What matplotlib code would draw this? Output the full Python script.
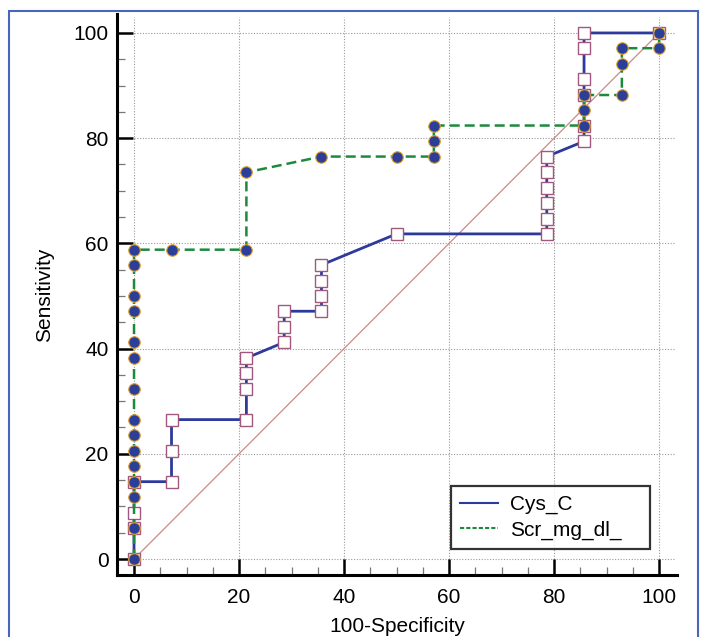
import numpy as np
import matplotlib
matplotlib.use("Agg")
import matplotlib.pyplot as plt
from matplotlib.patches import Rectangle

plt.rcParams["font.family"] = ["Liberation Sans", "DejaVu Sans"]

# -------- DATA ----------
cys_x = [0, 0, 0, 0, 7.14, 7.14, 7.14, 21.4, 21.4, 21.4, 21.4, 28.6, 28.6, 28.6,
         35.7, 35.7, 35.7, 35.7, 50, 78.6, 78.6, 78.6, 78.6, 78.6, 78.6,
         85.7, 85.7, 85.7, 85.7, 85.7, 85.7, 100]
cys_y = [0, 5.9, 8.8, 14.7, 14.7, 20.6, 26.5, 26.5, 32.4, 35.3, 38.2, 41.2, 44.1, 47.1,
         47.1, 50, 52.9, 55.9, 61.8, 61.8, 64.7, 67.6, 70.6, 73.5, 76.5,
         79.4, 82.4, 88.2, 91.2, 97.1, 100, 100]

scr_x = [0, 0, 0, 0, 0, 0, 0, 0, 0, 0, 0, 0, 0, 0, 0,
         7.14, 21.4, 21.4, 35.7, 50, 57.1, 57.1, 57.1,
         85.7, 85.7, 85.7, 92.9, 92.9, 92.9, 100, 100]
scr_y = [0, 5.9, 11.8, 14.7, 17.6, 20.6, 23.5, 26.5, 32.4, 38.2, 41.2, 47.1, 50, 55.9, 58.8,
         58.8, 58.8, 73.5, 76.5, 76.5, 76.5, 79.4, 82.4,
         82.4, 85.3, 88.2, 88.2, 94.1, 97.1, 97.1, 100]

ticks = [0, 20, 40, 60, 80, 100]
FS = 15
# ------------------------

fig = plt.figure(figsize=(7.02, 6.37), dpi=100)
ax = fig.add_axes([117 / 702, 62 / 637, 560 / 702, 561 / 637])

ax.set_xlim(-3.24, 103.4)
ax.set_ylim(-3.04, 103.6)

# dotted grid, starting at 0 rather than at the spines
grid_kw = dict(colors="#9a9a9a", linestyles=(0, (1, 1.5)), linewidth=0.8, zorder=0)
ax.hlines(ticks, 0, 103, **grid_kw)
ax.vlines(ticks, 0, 103, **grid_kw)

# reference diagonal
ax.plot([0, 100], [0, 100], color="#c98a8a", lw=0.9, zorder=1)

ax.plot(cys_x, cys_y, color="#2d3a9c", lw=2.0, marker="s", ms=8,
        mfc="white", mec="#a0587e", mew=1.0, label="Cys_C", zorder=3)
ax.plot(scr_x, scr_y, color="#1c8a3c", lw=1.8, ls=(0, (4, 2)), marker="o", ms=8.3,
        mfc="#2b3f99", mec="#e0a030", mew=0.8, label="Scr_mg_dl_", zorder=4)

for s in ["top", "right"]:
    ax.spines[s].set_visible(False)
for s in ["left", "bottom"]:
    ax.spines[s].set_linewidth(2.2)

ax.set_xticks(ticks)
ax.set_yticks(ticks)
ax.set_xticks(np.arange(0, 101, 5), minor=True)
ax.set_yticks(np.arange(0, 101, 5), minor=True)
ax.tick_params(which="major", direction="in", length=11.5, width=1.8,
               labelsize=FS)
ax.tick_params(axis="x", which="major", pad=9.5)
ax.tick_params(axis="y", which="major", pad=6)
ax.tick_params(which="minor", direction="in", length=5.5, width=0.9, color="#777777")

ax.set_xlabel("100-Specificity", fontsize=FS, labelpad=7)
ax.set_ylabel("Sensitivity", fontsize=FS, labelpad=14)

leg_lines = [plt.Line2D([], [], color="#2d3a9c", lw=1.5),
             plt.Line2D([], [], color="#1c8a3c", lw=1.5, ls=(0, (2, 1)))]
leg = ax.legend(leg_lines, ["Cys_C", "Scr_mg_dl_"], loc="lower left",
                bbox_to_anchor=(0.596, 0.046, 0.356, 0.2), mode="expand",
                fontsize=FS, frameon=True, fancybox=False,
                handlelength=1.8, handletextpad=0.6,
                borderpad=0.45, labelspacing=0.3, borderaxespad=0)
leg.get_frame().set_edgecolor("black")
leg.get_frame().set_linewidth(1.6)

# outer blue frame
fig.patches.append(Rectangle((9 / 702, -0.02), 689 / 702, 1.02 - 11 / 637,
                             transform=fig.transFigure, fill=False,
                             edgecolor="#4a66b8", lw=1.5))

fig.savefig("out.png", dpi=100)
